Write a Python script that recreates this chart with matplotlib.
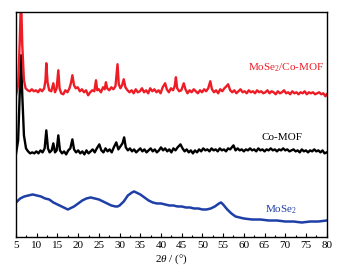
import matplotlib
matplotlib.use("Agg")
import matplotlib.pyplot as plt
from matplotlib.ticker import MultipleLocator

plt.rcParams['font.family'] = ['Liberation Serif', 'DejaVu Serif']
plt.rcParams['mathtext.fontset'] = 'custom'
plt.rcParams['mathtext.rm'] = 'Liberation Serif'
plt.rcParams['mathtext.it'] = 'Liberation Serif:italic'

# MoSe2/Co-MOF (arbitrary units)
red_x = [5.0, 5.5, 5.9, 6.2, 6.5, 6.9, 7.3, 7.8, 8.3, 8.8, 9.3, 9.8, 10.3, 10.8, 11.3, 11.8,
         12.1, 12.3, 12.6, 13.0, 13.5, 14.0, 14.4, 14.8, 15.2, 15.5, 15.9, 16.4, 16.9, 17.4,
         17.9, 18.3, 18.6, 19.0, 19.4, 19.9, 20.4, 20.9, 21.4, 21.9, 22.4, 22.9, 23.4, 23.9,
         24.3, 24.6, 25.0, 25.5, 26.0, 26.4, 26.7, 27.0, 27.5, 28.0, 28.5, 29.0, 29.5, 29.8,
         30.2, 30.6, 31.0, 31.4, 31.9, 32.4, 32.9, 33.4, 33.9, 34.4, 34.9, 35.4, 35.9, 36.4,
         36.9, 37.4, 37.9, 38.4, 38.9, 39.4, 39.9, 40.4, 41.0, 41.4, 41.9, 42.4, 42.9, 43.3,
         43.6, 43.9, 44.4, 44.9, 45.5, 45.9, 46.4, 46.9, 47.4, 47.9, 48.4, 48.9, 49.4, 49.9,
         50.4, 50.9, 51.4, 51.9, 52.3, 52.8, 53.3, 53.8, 54.3, 54.8, 55.3, 55.8, 56.2, 56.7,
         57.2, 57.7, 58.2, 58.7, 59.2, 59.7, 60.2, 60.7, 61.2, 61.7, 62.2, 62.7, 63.2, 63.7,
         64.2, 64.7, 65.2, 65.7, 66.2, 66.7, 67.2, 67.7, 68.2, 68.7, 69.2, 69.7, 70.2, 70.7,
         71.2, 71.7, 72.2, 72.7, 73.2, 73.7, 74.2, 74.7, 75.2, 75.7, 76.2, 76.7, 77.2, 77.7,
         78.2, 78.7, 79.2, 79.7, 80.0]
red_y = [141, 151, 196, 240, 191, 156, 148, 146, 145, 147, 145, 146, 144, 147, 145, 148,
         156, 173, 154, 146, 145, 153, 144, 148, 166, 148, 143, 142, 146, 144,
         148, 154, 161, 151, 148, 149, 145, 147, 144, 146, 141, 144, 146, 145,
         156, 146, 147, 144, 149, 147, 154, 148, 146, 149, 147, 150, 172, 152,
         148, 151, 157, 149, 146, 144, 146, 143, 147, 144, 145, 148, 144, 146,
         143, 148, 145, 147, 144, 146, 143, 149, 153, 147, 144, 148, 146, 150,
         159, 148, 145, 146, 153, 147, 143, 146, 144, 147, 145, 143, 146, 144,
         147, 145, 148, 155, 147, 144, 146, 143, 147, 145, 148, 150, 152, 146,
         144, 146, 143, 145, 147, 144, 145, 143, 146, 144, 145, 143, 146, 144,
         145, 143, 144, 146, 143, 145, 144, 142, 145, 143, 144, 146, 143, 144,
         142, 145, 143, 144, 142, 144, 143, 145, 142, 144, 143, 144, 142, 143,
         144, 142, 143, 140, 142]

# Co-MOF
black_x = [5.0, 5.5, 5.9, 6.2, 6.5, 6.9, 7.4, 7.9, 8.4, 8.9, 9.4, 9.9, 10.4, 10.9, 11.4, 11.9,
           12.3, 12.7, 13.1, 13.6, 14.0, 14.4, 14.8, 15.2, 15.6, 16.1, 16.6, 17.1, 17.6, 18.1,
           18.6, 19.0, 19.5, 20.0, 20.5, 21.0, 21.5, 22.0, 22.5, 23.0, 23.5, 24.0, 24.5, 25.1,
           25.6, 26.1, 26.6, 27.1, 27.6, 28.1, 28.6, 29.2, 29.7, 30.2, 30.7, 31.1, 31.5, 32.0,
           32.5, 33.0, 33.5, 34.0, 34.5, 35.0, 35.5, 36.0, 36.5, 37.0, 37.5, 38.0, 38.5, 39.0,
           39.5, 40.0, 40.5, 41.0, 41.5, 42.0, 42.5, 43.0, 43.5, 44.0, 44.7, 45.2, 45.7, 46.2,
           46.7, 47.2, 47.7, 48.2, 48.7, 49.2, 49.7, 50.2, 50.7, 51.2, 51.7, 52.2, 52.7, 53.2,
           53.7, 54.2, 54.7, 55.2, 55.7, 56.2, 56.7, 57.5, 58.0, 58.5, 59.0, 59.5, 60.0, 60.5,
           61.0, 61.5, 62.0, 62.5, 63.0, 63.5, 64.0, 64.5, 65.0, 65.5, 66.0, 66.5, 67.0, 67.5,
           68.0, 68.5, 69.0, 69.5, 70.0, 70.5, 71.0, 71.5, 72.0, 72.5, 73.0, 73.5, 74.0, 74.5,
           75.0, 75.5, 76.0, 76.5, 77.0, 77.5, 78.0, 78.5, 79.0, 79.5, 80.0]
black_y = [83, 96, 146, 181, 141, 101, 88, 85, 83, 84, 83, 85, 83, 86, 84, 88,
           106, 88, 84, 86, 93, 84, 86, 101, 86, 83, 85, 82, 86, 88,
           97, 87, 84, 86, 83, 85, 82, 86, 83, 85, 87, 84, 88, 92,
           86, 84, 88, 85, 87, 84, 89, 94, 87, 90, 93, 99, 89, 86,
           88, 85, 87, 84, 86, 88, 85, 87, 84, 86, 88, 85, 87, 84,
           86, 89, 86, 88, 85, 87, 84, 88, 86, 89, 92, 88, 85, 87,
           84, 86, 83, 86, 84, 87, 85, 88, 86, 87, 85, 88, 86, 87,
           85, 88, 86, 87, 85, 88, 87, 91, 86, 88, 86, 87, 85, 87,
           86, 88, 86, 87, 85, 88, 86, 87, 85, 87, 86, 88, 86, 87,
           85, 87, 86, 88, 86, 87, 85, 86, 87, 85, 86, 84, 87, 85,
           86, 84, 86, 85, 87, 85, 86, 84, 86, 83, 84]

# MoSe2
blue_x = [5, 6, 7, 8, 9, 10, 11, 12, 13, 14, 15, 16, 17, 17.5, 18, 19, 20, 21, 22, 23, 24,
          25, 26, 27, 28, 29, 29.5, 30, 31, 32, 33, 33.5, 34, 35, 36, 37, 38, 39, 40, 41,
          42, 43, 44, 45, 46, 47, 48, 49, 50, 51, 52, 53, 54, 54.5, 55, 56, 57, 58, 59, 60,
          62, 64, 66, 68, 70, 72, 74, 76, 78, 80]
blue_y = [34, 38, 40, 41, 42, 41, 40, 38, 37, 34, 32, 30, 28, 27, 28, 30, 33, 36, 38, 39, 38,
          37, 35, 33, 31, 30, 30, 31, 35, 41, 44, 45, 44, 42, 39, 36, 34, 33, 33, 32,
          31, 31, 30, 30, 29, 29, 28, 28, 27, 27, 28, 30, 33, 34, 32, 27, 23, 20, 19, 18,
          17, 17, 16, 16, 15, 15, 14, 15, 15, 16]

xticks = [5, 10, 15, 20, 25, 30, 35, 40, 45, 50, 55, 60, 65, 70, 75, 80]

red = '#ee1c25'
blue = '#1f3fa8'

fig = plt.figure(figsize=(3.57, 2.76), dpi=100)
ax = fig.add_axes([0.045, 0.143, 0.87, 0.813])

ax.plot(black_x, black_y, color='black', lw=1.7)
ax.plot(red_x, red_y, color=red, lw=1.7)
ax.plot(blue_x, blue_y, color=blue, lw=1.8)

ax.text(60.9, 168, 'MoSe$_2$/Co-MOF', color=red, fontsize=8, va='center', ha='left')
ax.text(64.3, 99, 'Co-MOF', color='black', fontsize=8, va='center', ha='left')
ax.text(65.2, 27, 'MoSe$_2$', color=blue, fontsize=8, va='center', ha='left')

ax.set_xlim(5, 80)
ax.set_ylim(0, 224)
ax.set_xticks(xticks)
ax.xaxis.set_minor_locator(MultipleLocator(2.5))
ax.set_yticks([])
ax.tick_params(axis='x', which='major', direction='in', length=3, width=0.8, labelsize=8, pad=3)
ax.tick_params(axis='x', which='minor', direction='in', length=1.5, width=0.8)
for s in ax.spines.values():
    s.set_linewidth(1.0)

ax.set_xlabel(r'2$\it{\theta}$ / (°)', fontsize=8, labelpad=2)

fig.savefig('out.png', dpi=100)
